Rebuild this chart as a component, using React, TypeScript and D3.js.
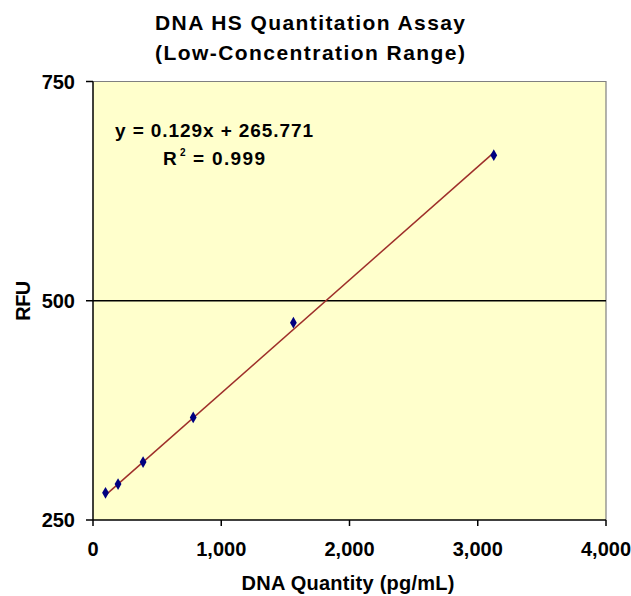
import React from "react";
import * as d3 from "d3";

const titleLines = ["DNA HS Quantitation Assay", "(Low-Concentration Range)"];
const xTitle = "DNA Quantity (pg/mL)";
const yTitle = "RFU";
const dnaQuantity = [97.66, 195.3, 390.6, 781.25, 1562.5, 3125];
const rfu = [281, 291, 316, 367, 475, 666];
const xTicks = [0, 1000, 2000, 3000, 4000];
const yTicks = [250, 500, 750];
const slope = 0.129;
const intercept = 265.771;
const equationText = "y = 0.129x + 265.771";
const r2Value = "0.999";

const W = 631;
const H = 596;
const M = { left: 93, right: 25, top: 81.5, bottom: 76 };
const FONT = "'Liberation Sans', Arial, sans-serif";

export default function App() {
  const x = d3.scaleLinear().domain([0, 4000]).range([M.left, W - M.right]);
  const y = d3.scaleLinear().domain([250, 750]).range([H - M.bottom, M.top]);
  const fmt = d3.format(",");
  const x0 = x(0), x1 = x(4000), yb = y(250), yt = y(750);
  const trendX = [dnaQuantity[0], dnaQuantity[dnaQuantity.length - 1]];
  const line = d3.line<number>().x((d) => x(d)).y((d) => y(slope * d + intercept));
  const diamond = d3.symbol().type(d3.symbolDiamond).size(40)();

  return (
    <svg width={W} height={H} style={{ position: "absolute", left: 0, top: 0, display: "block", background: "#fff" }}
      fontFamily={FONT} fontWeight="bold">
      <rect x={x0} y={yt} width={x1 - x0} height={yb - yt} fill="#FFFFCC" />
      <path d={`M${x0},${yt}H${x1}V${yb}`} fill="none" stroke="#808080" strokeWidth={1.2} />
      <line x1={x0} x2={x1} y1={y(500)} y2={y(500)} stroke="#000" strokeWidth={1.5} />
      <line x1={x0} x2={x0} y1={yt} y2={yb} stroke="#000" strokeWidth={1.5} />
      <line x1={x0} x2={x1} y1={yb} y2={yb} stroke="#000" strokeWidth={1.5} />
      {yTicks.map((t) => (
        <g key={"y" + t}>
          <line x1={x0 - 7} x2={x0} y1={y(t)} y2={y(t)} stroke="#000" strokeWidth={1.5} />
          <text x={x0 - 18} y={y(t)} dy="0.35em" textAnchor="end" fontSize={20} fill="#000">{t}</text>
        </g>
      ))}
      {xTicks.map((t) => (
        <g key={"x" + t}>
          <line x1={x(t)} x2={x(t)} y1={yb} y2={yb + 6} stroke="#000" strokeWidth={1.5} />
          <text x={x(t)} y={556} textAnchor="middle" fontSize={20} fill="#000">{fmt(t)}</text>
        </g>
      ))}
      <path d={line(trendX) || ""} fill="none" stroke="#9E2F2A" strokeWidth={1.5} />
      {dnaQuantity.map((d, i) => (
        <path key={i} d={diamond || ""} transform={`translate(${x(d)},${y(rfu[i])})`} fill="#000080" />
      ))}
      <text x={115} y={137} fontSize={19} fill="#000" textLength={198} lengthAdjust="spacing">{equationText}</text>
      <text x={163} y={165} fontSize={19} fill="#000">R</text>
      <text x={180} y={156} fontSize={10} fill="#000">2</text>
      <text x={193} y={165} fontSize={19} fill="#000" textLength={72} lengthAdjust="spacing">{"= " + r2Value}</text>
      {titleLines.map((s, i) => (
        <text key={i} x={310} y={30 + i * 30} textAnchor="middle" fontSize={21} fill="#000"
          textLength={310} lengthAdjust="spacing">{s}</text>
      ))}
      <text x={348} y={590} textAnchor="middle" fontSize={20} fill="#000" textLength={213} lengthAdjust="spacing">{xTitle}</text>
      <text transform={`translate(30,${(yt + yb) / 2}) rotate(-90)`} textAnchor="middle" fontSize={20} fill="#000"
        textLength={40} lengthAdjust="spacing">{yTitle}</text>
    </svg>
  );
}
